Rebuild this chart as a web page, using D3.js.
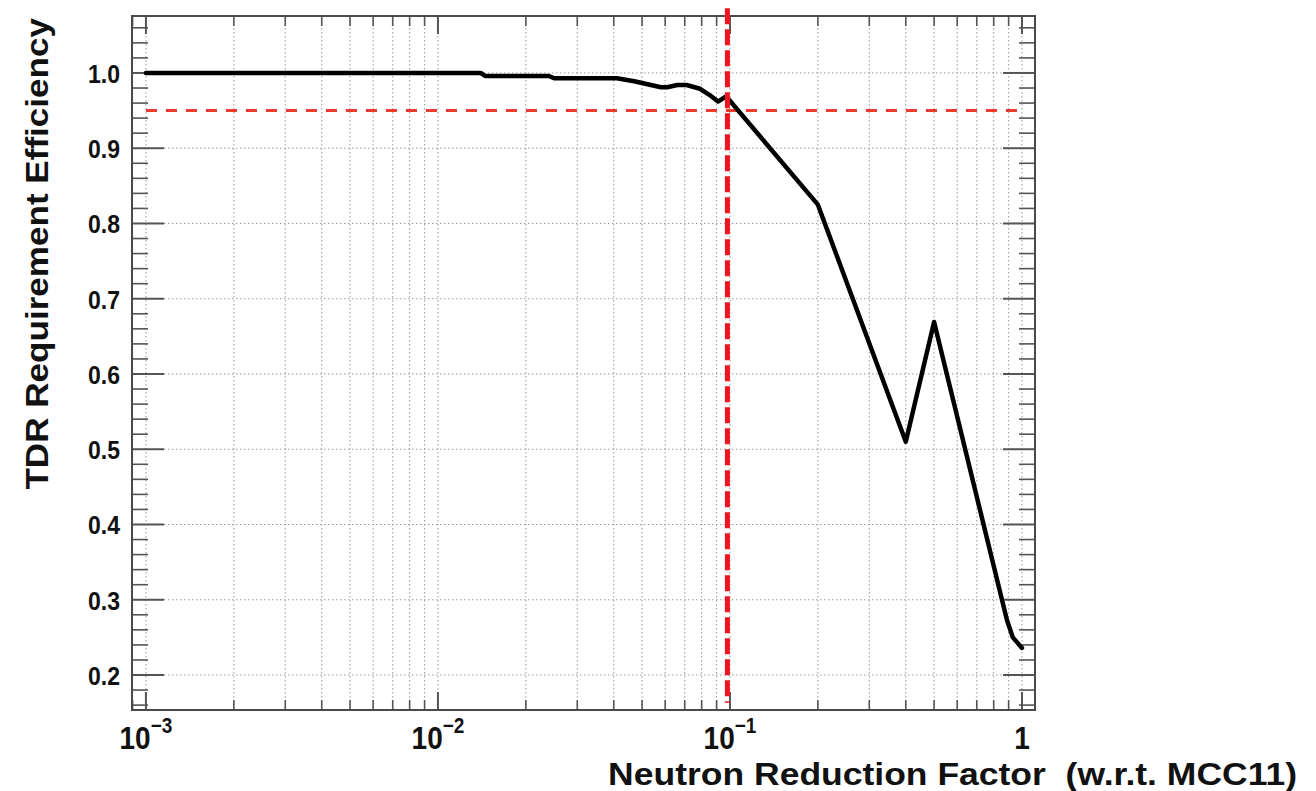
<!DOCTYPE html>
<html><head><meta charset="utf-8">
<script src="https://cdn.jsdelivr.net/npm/d3@7"></script>
<style>body{margin:0;background:#fff}svg{display:block}</style>
</head><body><svg id="c" width="1316" height="791"></svg>
<script>
// ---- data ----
const reductionFactor = [0.001, 0.005, 0.014, 0.0145, 0.024, 0.025, 0.041, 0.047, 0.058, 0.061, 0.066, 0.071, 0.079, 0.085, 0.091, 0.097, 0.2, 0.4, 0.5, 0.888, 0.93, 1.0];
const efficiency      = [1.000, 1.000, 1.000, 0.996, 0.996, 0.993, 0.993, 0.989, 0.981, 0.981, 0.984, 0.984, 0.979, 0.971, 0.962, 0.969, 0.825, 0.510, 0.669, 0.273, 0.250, 0.236];
const yTickValues = [0.2, 0.3, 0.4, 0.5, 0.6, 0.7, 0.8, 0.9, 1.0];
const yTickLabels = ["0.2", "0.3", "0.4", "0.5", "0.6", "0.7", "0.8", "0.9", "1.0"];
const xTickExponents = [-3, -2, -1, 0];
const requirementEff = 0.95;          // horizontal dashed line
const requirementRange = [0.001, 1];
const targetFactor = 0.098;           // vertical dashed line
const targetYRange = [0.163, 1.086];
const xTitle = "Neutron Reduction Factor\u00a0\u00a0(w.r.t. MCC11)";
const yTitle = "TDR Requirement Efficiency";

// ---- layout ----
const svg = d3.select("#c");
const L = 132, R = 1035, T = 16, B = 710;
const x = d3.scaleLog().domain([0.000896, 1.108]).range([L, R]);
const y = d3.scaleLinear().domain([0.1535, 1.0757]).range([B, T]);
const FONT = "'Liberation Sans', Arial, Helvetica, sans-serif";
const VS = 1.12; // vertical stretch of tick-label text in the reference

svg.append("rect").attr("width", 1316).attr("height", 791).attr("fill", "#fff");

// x ticks: decades and minors
const [x0, x1] = x.domain();
const xMajor = [], xMinor = [];
for (let e = -4; e <= 0; e++) {
  for (let k = 1; k <= 9; k++) {
    const v = k * Math.pow(10, e);
    if (v <= x0 || v >= x1) continue;
    (k === 1 ? xMajor : xMinor).push(v);
  }
}
const yMinor = d3.range(0.16, 1.075, 0.02).filter(v => Math.abs(v * 10 - Math.round(v * 10)) > 1e-6);

// grid
const grid = svg.append("g").attr("stroke", "#9a9a9a").attr("stroke-width", 1).attr("stroke-dasharray", "1.5,2.5");
grid.selectAll(".gx").data(xMajor.concat(xMinor)).join("line")
  .attr("x1", d => x(d)).attr("x2", d => x(d)).attr("y1", T).attr("y2", B);
grid.selectAll(".gy").data(yTickValues).join("line")
  .attr("x1", L).attr("x2", R).attr("y1", d => y(d)).attr("y2", d => y(d));

// ticks
const tk = svg.append("g").attr("stroke", "#555");
function vTicks(vals, len, w) {
  tk.append("g").attr("stroke-width", w).selectAll("line").data(vals).join("line")
    .attr("x1", d => x(d)).attr("x2", d => x(d)).attr("y1", B).attr("y2", B - len);
  tk.append("g").attr("stroke-width", w).selectAll("line").data(vals).join("line")
    .attr("x1", d => x(d)).attr("x2", d => x(d)).attr("y1", T).attr("y2", T + len);
}
function hTicks(vals, len, w) {
  tk.append("g").attr("stroke-width", w).selectAll("line").data(vals).join("line")
    .attr("x1", L).attr("x2", L + len).attr("y1", d => y(d)).attr("y2", d => y(d));
  tk.append("g").attr("stroke-width", w).selectAll("line").data(vals).join("line")
    .attr("x1", R).attr("x2", R - len).attr("y1", d => y(d)).attr("y2", d => y(d));
}
vTicks(xMajor, 18, 2);
vTicks(xMinor, 10, 1.6);
hTicks(yTickValues, 32, 2);
hTicks(yMinor, 16, 1.6);

// frame
svg.append("rect").attr("x", L).attr("y", T).attr("width", R - L).attr("height", B - T)
  .attr("fill", "none").attr("stroke", "#4a4a4a").attr("stroke-width", 2);

// requirement line
svg.append("line")
  .attr("x1", x(requirementRange[0])).attr("x2", x(requirementRange[1]))
  .attr("y1", y(requirementEff)).attr("y2", y(requirementEff))
  .attr("stroke", "#ec3b2a").attr("stroke-width", 3).attr("stroke-dasharray", "11,9");

// curve
const line = d3.line().x(d => x(d[0])).y(d => y(d[1])).curve(d3.curveLinear);
svg.append("path").datum(reductionFactor.map((v, i) => [v, efficiency[i]]))
  .attr("d", line).attr("fill", "none").attr("stroke", "#000").attr("stroke-width", 4.5)
  .attr("stroke-linejoin", "round").attr("stroke-linecap", "round");

svg.append("line")
  .attr("x1", x(targetFactor)).attr("x2", x(targetFactor))
  .attr("y1", y(targetYRange[1])).attr("y2", y(targetYRange[0]))
  .attr("stroke", "#f0141e").attr("stroke-width", 5).attr("stroke-dasharray", "16,5");

// y tick labels
svg.append("g").selectAll("text").data(yTickValues).join("text")
  .attr("transform", d => `translate(120,${y(d) + 10}) scale(1,1.14)`)
  .attr("text-anchor", "end").attr("font-family", FONT).attr("font-weight", "bold")
  .attr("font-size", 23).attr("fill", "#111")
  .text((d, i) => yTickLabels[i]);

// x tick labels
const xl = svg.append("g").attr("font-family", FONT).attr("font-weight", "bold").attr("fill", "#111");
xTickExponents.forEach(e => {
  const t = xl.append("text").attr("transform", `translate(${x(Math.pow(10, e))},749) scale(1,${VS})`)
    .attr("text-anchor", "middle").attr("font-size", 28);
  if (e === 0) { t.text("1"); }
  else {
    t.append("tspan").text("10");
    t.append("tspan").attr("dy", -14).attr("font-size", 19).text("\u2212" + Math.abs(e));
  }
});

// titles
svg.append("text").attr("transform", `translate(1297,784.5) scale(1,0.9)`).attr("text-anchor", "end")
  .attr("font-family", FONT).attr("font-weight", "bold").attr("font-size", 35.5).attr("fill", "#111")
  .text(xTitle);
svg.append("text").attr("transform", "translate(48,18) rotate(-90) scale(1.15,1)").attr("text-anchor", "end")
  .attr("font-family", FONT).attr("font-weight", "bold").attr("font-size", 30.5).attr("fill", "#111")
  .text(yTitle);
</script></body></html>
